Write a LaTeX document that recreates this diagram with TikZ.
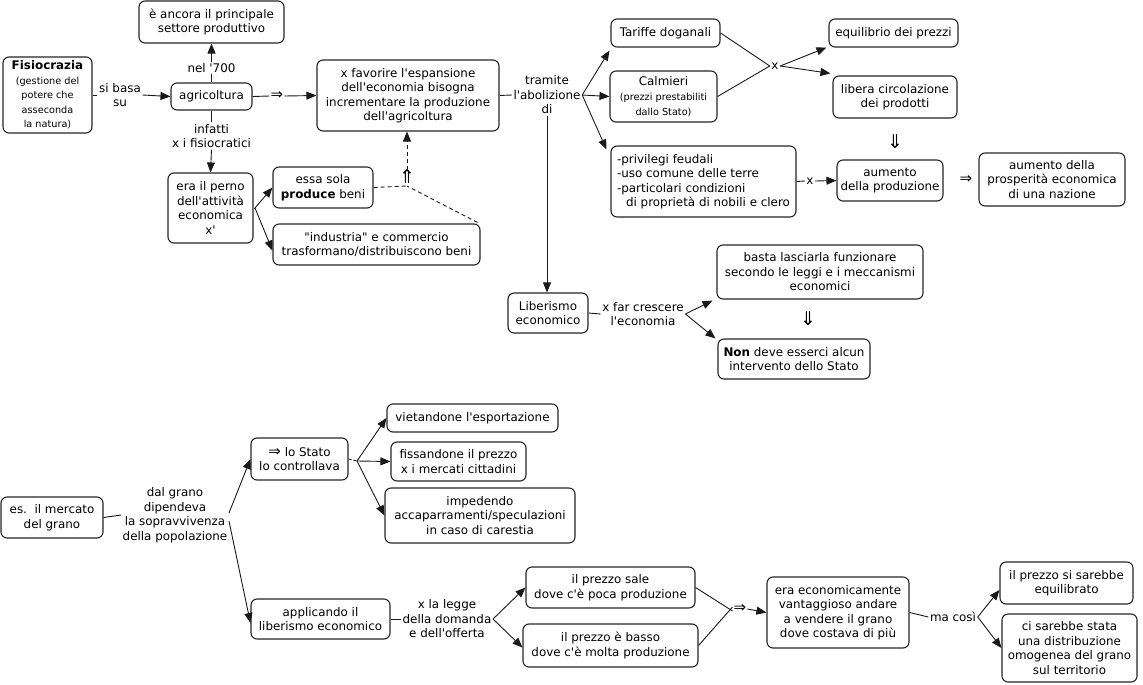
\documentclass[tikz,border=0pt]{standalone}
\usepackage{fontspec}
\setmainfont{DejaVu Sans}[Ligatures=TeXOff]
\usetikzlibrary{arrows.meta}
\newcommand\mfont{\fontsize{11.9}{14.5}\selectfont}
\newcommand\sfont{\fontsize{9.7}{12}\selectfont}
\newcommand\afont{\fontsize{15}{15}\selectfont}
\newcommand\vfont{\fontsize{19}{19}\selectfont}
\newcommand\bx[6]{\node[box,minimum width=#4pt,minimum height=#5pt] (#1) at (#2,#3) {#6};}
\begin{document}
\begin{tikzpicture}[x=1pt,y=-1pt,
  box/.style={draw=black!85,line width=1.1pt,rounded corners=6pt,align=center,font=\mfont,inner sep=0pt,fill=white},
  lbl/.style={align=center,font=\mfont,inner sep=1.5pt},
  sym/.style={align=center,font=\afont,inner sep=1pt},
  vsym/.style={align=center,font=\vfont,inner sep=0pt},
  con/.style={line width=0.9pt,draw=black!90},
  arr/.style={con,-{Triangle[length=10pt,width=8pt]}},
  dsh/.style={dash pattern=on 4pt off 3pt}
]
\useasboundingbox (0,0) rectangle (1143,685);
% ---- boxes, upper part
\bx{fisio}{47.5}{95}{89}{76}{\textbf{Fisiocrazia}\\\sfont (gestione del\\\sfont potere che\\\sfont asseconda\\\sfont la natura)}
\bx{settore}{211.5}{22}{145}{42}{è ancora il principale\\settore produttivo}
\bx{agri}{211.5}{96.5}{81}{27}{agricoltura}
\bx{perno}{210.5}{208}{85}{70}{era il perno\\dell'attività\\economica\\x'}
\bx{favorire}{408}{95.5}{182}{71}{x favorire l'espansione\\dell'economia bisogna\\incrementare la produzione\\dell'agricoltura}
\bx{essa}{323}{187.5}{100}{41}{essa sola\\\textbf{produce} beni}
\bx{industria}{376.5}{244.5}{207}{41}{"industria" e commercio\\trasformano/distribuiscono beni}
\bx{tariffe}{665.5}{33}{109}{28}{Tariffe doganali}
\bx{calmieri}{663.5}{96.5}{107}{51}{Calmieri\\[1pt]\sfont (prezzi prestabiliti\\\sfont dallo Stato)}
\node[box,minimum width=185pt,minimum height=71pt,align=left] (privilegi) at (703.5,181.5)
  {-privilegi feudali\\-uso comune delle terre\\-particolari condizioni\\\hspace*{9pt}di proprietà di nobili e clero};
\bx{equilibrio}{893.5}{33}{129}{28}{equilibrio dei prezzi}
\bx{libera}{895}{97}{124}{42}{libera circolazione\\dei prodotti}
\bx{aumento}{890}{180.5}{106}{41}{aumento\\della produzione}
\bx{prosperita}{1052}{179.5}{146}{53}{aumento della\\prosperità economica\\di una nazione}
\bx{liberismo}{548}{313}{80}{40}{Liberismo\\economico}
\bx{basta}{820}{272}{206}{54}{basta lasciarla funzionare\\secondo le leggi e i meccanismi\\economici}
\bx{non}{794}{359}{152}{40}{\textbf{Non} deve esserci alcun\\intervento dello Stato}
% ---- boxes, lower part
\bx{mercato}{52}{517.5}{102}{41}{es.\ \ il mercato\\del grano}
\bx{stato}{299.5}{459}{97}{42}{{\afont ⇒} lo Stato\\lo controllava}
\bx{vietandone}{472.5}{418}{171}{28}{vietandone l'esportazione}
\bx{fissandone}{458.5}{461.5}{135}{39}{fissandone il prezzo\\x i mercati cittadini}
\bx{impedendo}{480}{515.5}{190}{55}{impedendo\\accaparramenti/speculazioni\\in caso di carestia}
\bx{applicando}{320.5}{619}{139}{40}{applicando il\\liberismo economico}
\bx{sale}{610.5}{587.5}{169}{41}{il prezzo sale\\dove c'è poca produzione}
\bx{basso}{610.5}{645.5}{175}{43}{il prezzo è basso\\dove c'è molta produzione}
\bx{vantaggioso}{838}{612.5}{142}{71}{era economicamente\\vantaggioso andare\\a vendere il grano\\dove costava di più}
\bx{equilibrato}{1066.5}{583}{133}{42}{il prezzo si sarebbe\\equilibrato}
\bx{distribuzione}{1069.5}{648}{135}{68}{ci sarebbe stata\\una distribuzione\\omogenea del grano\\sul territorio}
% ---- linking phrases
\node[lbl] (sibasa) at (120,95) {si basa\\su};
\node[lbl] (nel) at (211.5,68) {nel '700};
\node[sym] (imp1) at (277,96) {⇒};
\node[lbl] (infatti) at (211.5,136) {infatti\\x i fisiocratici};
\node[vsym] (dimp) at (407,177) {⇑};
\coordinate (dp) at (407,186);
\coordinate (pb) at (255,208);
\node[lbl] (tramite) at (547,95) {tramite\\l'abolizione\\di};
\node[lbl] (x1) at (775,66) {x};
\node[lbl] (x2) at (810,181) {x};
\node[vsym] (imp2) at (895,142) {⇓};
\node[sym] (imp3) at (966,180) {⇒};
\node[lbl] (xfar) at (643,314) {x far crescere\\l'economia};
\node[vsym] (imp4) at (808,319) {⇓};
\node[lbl] (dalgrano) at (175,515) {dal grano\\dipendeva\\la sopravvivenza\\della popolazione};
\coordinate (sb) at (357,461);
\node[lbl] (legge) at (447,619) {x la legge\\della domanda\\e dell'offerta};
\node[sym] (imp5) at (740,609) {⇒};
\node[lbl] (macosi) at (953,617) {ma così};
% ---- connectors, upper part
\draw[con] (fisio.east) -- (sibasa.west);
\draw[arr] (sibasa.east) -- (agri.west);
\draw[con] (agri.north) -- (nel.south);
\draw[arr] (nel.north) -- (settore.south);
\draw[con] (agri.east) -- (imp1.west);
\draw[arr] (imp1.east) -- (favorire.west);
\draw[con] (agri.south) -- (infatti.north);
\draw[arr] (infatti.south) -- (perno.north);
\draw[con] (perno.east) -- (pb);
\draw[arr] (pb) -- (essa.west);
\draw[arr] (pb) -- ([yshift=-6pt]industria.west);
\draw[con,dsh] (essa.east) -- (dp);
\draw[con,dsh] ([xshift=-3pt,yshift=1pt]industria.north east) -- (dp);
\draw[arr,dsh] (dimp.north) -- (dimp.north |- favorire.south);
\draw[con] (favorire.east) -- (tramite.west);
\draw[arr] (tramite.east) -- ([xshift=-1pt,yshift=-3pt]tariffe.south west);
\draw[arr] (tramite.east) -- (calmieri.west);
\draw[arr] (tramite.east) -- ([xshift=-4pt,yshift=-4pt]privilegi.north west);
\draw[arr] (tramite.south) -- (tramite.south |- liberismo.north);
\draw[con] (tariffe.east) -- (x1.west);
\draw[con] (calmieri.east) -- (x1.west);
\draw[arr] (x1.east) -- ([xshift=-2pt]equilibrio.south west);
\draw[arr] (x1.east) -- ([xshift=-2pt,yshift=2pt]libera.north west);
\draw[con] (privilegi.east) -- (x2.west);
\draw[arr] (x2.east) -- (aumento.west);
\draw[con] (liberismo.east) -- (xfar.west);
\draw[arr] (xfar.east) -- ([xshift=-4pt,yshift=-1pt]basta.south west);
\draw[arr] (xfar.east) -- ([xshift=-2pt,yshift=0pt]non.north west);
% ---- connectors, lower part
\draw[con] (mercato.east) -- (dalgrano.west);
\draw[arr] ([yshift=2pt]dalgrano.east) -- (stato.west);
\draw[arr] ([yshift=-6pt]dalgrano.east) -- ([yshift=-4pt]applicando.west);
\draw[con,dash pattern=on 3pt off 2pt] (stato.east) -- (sb);
\draw[arr] (sb) -- (vietandone.west);
\draw[arr] (sb) -- (fissandone.west);
\draw[arr] (sb) -- (impedendo.west);
\draw[con] (applicando.east) -- (legge.west);
\draw[arr] (legge.east) -- (sale.west);
\draw[arr] (legge.east) -- ([yshift=-2pt]basso.west);
\draw[con] (sale.east) -- ([yshift=-2pt]imp5.west);
\draw[con] (basso.east) -- ([yshift=2pt]imp5.west);
\draw[arr] (imp5.east) -- (vantaggioso.west);
\draw[con] (vantaggioso.east) -- (macosi.west);
\draw[arr] (macosi.east) -- ([yshift=-7pt]equilibrato.west);
\draw[arr] (macosi.east) -- (distribuzione.west);
\end{tikzpicture}
\end{document}
